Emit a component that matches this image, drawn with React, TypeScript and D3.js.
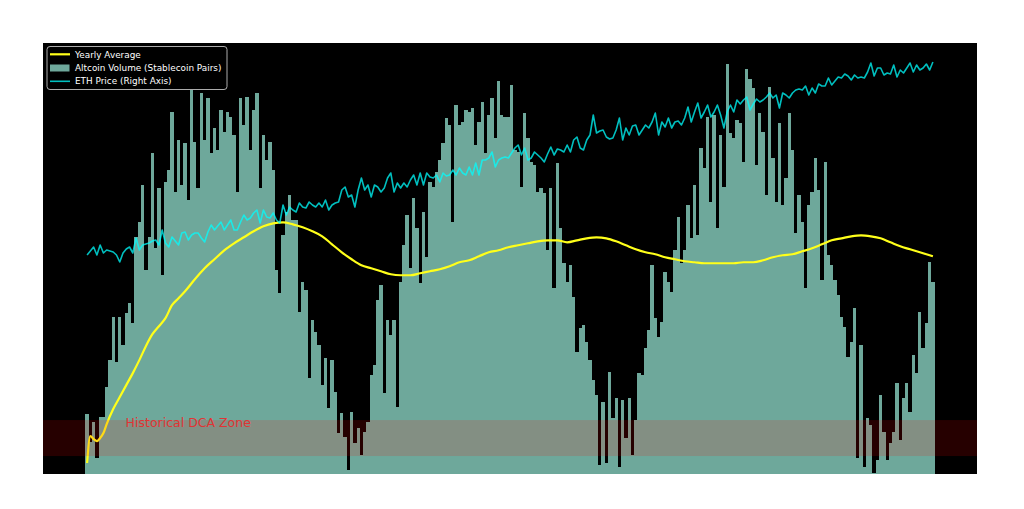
import React from "react";
import * as d3 from "d3";

// Weekly altcoin volume on stablecoin pairs (billions), one value per week
const altVolume = [
  6.0, 3.2, 5.2, 1.6, 5.7, 5.7, 8.7, 11.4, 15.7, 11.2,
  15.7, 12.9, 16.1, 17.1, 15.1, 23.7, 25.2, 28.9, 20.4, 23.7,
  32.1, 22.6, 28.6, 19.9, 29.2, 30.4, 36.2, 28.2, 33.4, 28.9,
  33.1, 27.4, 38.4, 33.2, 28.6, 38.1, 33.4, 37.6, 32.1, 34.6,
  32.4, 36.4, 34.2, 36.2, 35.7, 33.9, 28.2, 37.6, 34.9, 37.7,
  32.4, 36.4, 38.1, 28.6, 33.9, 31.4, 33.2, 30.4, 20.4, 18.1,
  23.9, 26.2, 27.9, 25.4, 25.4, 16.2, 19.2, 18.4, 9.6, 15.4,
  14.2, 12.9, 8.9, 11.6, 6.6, 11.4, 8.2, 4.1, 6.1, 3.7,
  0.4, 6.2, 3.1, 4.6, 1.9, 4.2, 5.2, 9.9, 10.9, 17.4,
  18.9, 8.1, 15.4, 13.9, 15.4, 6.7, 19.2, 22.9, 25.9, 20.6,
  27.6, 24.6, 19.1, 26.2, 21.7, 29.2, 28.7, 30.2, 31.4, 33.1,
  35.6, 34.9, 25.2, 36.9, 34.9, 35.2, 36.4, 36.2, 36.6, 32.9,
  35.2, 37.2, 32.1, 35.9, 37.6, 33.6, 39.4, 35.9, 35.7, 35.7,
  38.9, 32.4, 32.2, 28.7, 36.1, 33.6, 31.2, 30.9, 28.2, 28.6,
  28.1, 22.4, 28.6, 18.6, 31.1, 24.6, 21.1, 19.2, 20.9, 17.7,
  12.2, 14.6, 14.9, 13.2, 11.4, 9.4, 7.9, 0.9, 7.2, 1.1,
  10.2, 5.6, 7.6, 0.7, 7.4, 3.6, 7.6, 1.9, 5.4, 10.1,
  9.9, 12.6, 14.4, 20.9, 15.6, 13.7, 15.2, 20.2, 19.2, 18.2,
  22.4, 25.7, 21.1, 22.4, 26.9, 23.6, 28.9, 23.9, 32.6, 30.6,
  35.7, 27.2, 35.9, 24.6, 33.9, 28.7, 41.1, 34.1, 33.6, 35.4,
  35.1, 31.2, 40.6, 39.6, 38.6, 30.9, 36.1, 34.2, 27.9, 38.7,
  31.6, 27.2, 35.1, 26.9, 29.6, 36.1, 32.4, 24.1, 27.9, 25.2,
  18.6, 26.9, 28.2, 31.6, 28.4, 19.4, 31.2, 21.9, 20.9, 19.4,
  17.9, 15.7, 14.7, 11.7, 13.2, 16.6, 1.6, 12.9, 0.7, 5.6,
  4.9, 0.1, 1.4, 7.9, 4.2, 1.4, 3.1, 4.2, 9.1, 3.4,
  7.6, 9.1, 6.2, 11.9, 10.1, 16.2, 12.6, 15.1, 21.2, 19.2,
];

// ETH price (USD), one value per week, right axis
const ethPrice = [
  2190, 2230, 2270, 2190, 2290, 2210, 2240, 2230, 2220, 2190,
  2120, 2210, 2250, 2270, 2210, 2360, 2240, 2290, 2300, 2310,
  2330, 2340, 2290, 2440, 2310, 2270, 2370, 2330, 2290, 2410,
  2420, 2340, 2390, 2410, 2410, 2360, 2320, 2420, 2490, 2440,
  2480, 2520, 2440, 2490, 2540, 2440, 2440, 2520, 2590, 2540,
  2560, 2610, 2640, 2510, 2640, 2570, 2560, 2610, 2540, 2510,
  2690, 2590, 2670, 2640, 2620, 2710, 2670, 2660, 2720, 2690,
  2670, 2710, 2670, 2740, 2640, 2690, 2710, 2720, 2840, 2870,
  2770, 2790, 2670, 2840, 2960, 2840, 2890, 2770, 2890, 2870,
  2820, 2860, 2960, 3010, 2820, 2910, 2860, 2910, 2870, 2940,
  2990, 2890, 3010, 2890, 3010, 2970, 2960, 2990, 2920, 3010,
  2980, 2990, 3040, 2990, 3060, 3010, 2990, 3070, 2990, 3110,
  2990, 3140, 3140, 3160, 3220, 3070, 3140, 3160, 3170, 3160,
  3210, 3260, 3290, 3190, 3260, 3140, 3160, 3220, 3190, 3160,
  3120, 3200, 3270, 3190, 3250, 3240, 3220, 3290, 3220, 3340,
  3370, 3260, 3240, 3340, 3390, 3590, 3410, 3430, 3440, 3370,
  3350, 3360, 3440, 3560, 3340, 3460, 3390, 3480, 3490, 3390,
  3440, 3490, 3460, 3520, 3610, 3390, 3520, 3470, 3560, 3460,
  3520, 3530, 3490, 3560, 3670, 3520, 3620, 3710, 3560, 3620,
  3690, 3570, 3620, 3690, 3590, 3460, 3620, 3690, 3620, 3740,
  3700, 3740, 3770, 3640, 3700, 3750, 3720, 3740, 3770, 3810,
  3760, 3790, 3660, 3810, 3790, 3760, 3810, 3840, 3850, 3840,
  3880, 3790, 3860, 3810, 3900, 3880, 3880, 3960, 3890, 3930,
  3970, 3960, 4000, 3980, 3940, 3990, 3960, 3970, 3960, 4020,
  4110, 3980, 4060, 4060, 3990, 4010, 4000, 4090, 3970, 4040,
  4010, 4060, 4110, 4020, 4090, 4040, 4060, 4100, 4040, 4120,
];

// Yearly (rolling) average of the volume, read at these week indices
const avgWeek = [
  0, 1, 2, 3, 4, 5, 6, 8, 10, 12, 14, 16, 18, 20, 22, 24, 26, 28, 30,
  33, 36, 39, 42, 45, 48, 51, 54, 57, 60, 63, 66, 69, 72, 75, 78, 81, 84, 87,
  90, 93, 96, 99, 102, 105, 108, 111, 114, 117, 120, 123, 126, 129, 132, 135,
  138, 141, 144, 147, 150, 153, 156, 159, 162, 165, 168, 171, 174, 177, 180,
  183, 186, 189, 192, 195, 198, 201, 204, 207, 210, 213, 216, 219, 222, 225,
  228, 231, 234, 237, 240, 243, 246, 249, 252, 255, 259,
];
const avgValue = [
  1.1, 3.8, 3.5, 3.3, 3.6, 4.1, 5.0, 6.5, 7.7, 8.9, 10.1, 11.4, 12.8, 14.0, 14.8, 15.6, 16.9, 17.6, 18.3,
  19.5, 20.6, 21.5, 22.4, 23.1, 23.7, 24.3, 24.8, 25.1, 25.2, 25.0, 24.7, 24.3, 23.8, 23.0, 22.2, 21.5, 20.9, 20.6,
  20.3, 20.0, 19.9, 19.9, 20.1, 20.3, 20.5, 20.8, 21.2, 21.4, 21.8, 22.2, 22.4, 22.7, 22.9, 23.1,
  23.3, 23.4, 23.4, 23.2, 23.4, 23.6, 23.7, 23.6, 23.3, 22.9, 22.5, 22.2, 22.0, 21.7, 21.5,
  21.3, 21.2, 21.1, 21.1, 21.1, 21.1, 21.2, 21.2, 21.4, 21.7, 21.9, 22.0, 22.3, 22.6, 23.0,
  23.4, 23.6, 23.8, 23.9, 23.8, 23.6, 23.2, 22.8, 22.5, 22.2, 21.8,
];

const dcaZone = [1.8, 5.4];
const dcaLabel = "Historical DCA Zone";
const legendLabels = ["Yearly Average", "Altcoin Volume (Stablecoin Pairs)", "ETH Price (Right Axis)"];

const W = 1024;
const H = 509;
const L = 43, R = 977, T = 43, B = 474;

export default function App() {
  const n = altVolume.length;
  const pad = 0.05 * n;
  const x = d3.scaleLinear().domain([-0.5 - pad, n - 0.5 + pad]).range([L, R]);
  const yVol = d3.scaleLinear().domain([0, (d3.max(altVolume) as number) * 1.05]).range([B, T]);
  const yEth = d3.scaleLinear().domain([0, 4310]).range([B, T]);

  const avgLine = d3
    .line<number>()
    .x((_, i) => x(avgWeek[i]))
    .y((d) => yVol(d))
    .curve(d3.curveMonotoneX)(avgValue) as string;

  const ethLine = d3
    .line<number>()
    .x((_, i) => x(i))
    .y((d) => yEth(d))(ethPrice) as string;

  const font = "DejaVu Sans, sans-serif";

  return (
    <svg
      width={W}
      height={H}
      style={{ position: "absolute", left: 0, top: 0, background: "#ffffff" }}
    >
      <defs>
        <clipPath id="plot">
          <rect x={L} y={T} width={R - L} height={B - T} />
        </clipPath>
      </defs>
      <rect x={L} y={T} width={R - L} height={B - T} fill="#000000" />
      <g clipPath="url(#plot)">
        <g shapeRendering="crispEdges">
          {altVolume.map((v, i) => (
            <rect
              key={i}
              x={x(i - 0.5)}
              width={x(i + 0.5) - x(i - 0.5)}
              y={yVol(v)}
              height={B - yVol(v)}
              fill="#6ea89b"
            />
          ))}
        </g>
        <path d={avgLine} fill="none" stroke="#ffff1a" strokeWidth={2.2} strokeLinejoin="round" />
        <rect
          x={L}
          width={R - L}
          y={yVol(dcaZone[1])}
          height={yVol(dcaZone[0]) - yVol(dcaZone[1])}
          fill="#ff0000"
          fillOpacity={0.15}
        />
        <text x={x(11.8)} y={yVol(dcaZone[1]) + 6.5} fill="#e03434" fontFamily={font} fontSize={12.5}>
          {dcaLabel}
        </text>
        <path d={ethLine} fill="none" stroke="#00ffff" strokeOpacity={0.75} strokeWidth={1.6} strokeLinejoin="round" />
      </g>
      <g>
        <rect x={47} y={46.5} width={180} height={43} rx={3} fill="#000000" fillOpacity={0.8} stroke="#bfbfbf" strokeWidth={0.9} />
        <line x1={50} x2={70} y1={54.3} y2={54.3} stroke="#ffff1a" strokeWidth={2.2} />
        <rect x={50} y={64.5} width={19.5} height={7} fill="#6ea89b" />
        <line x1={50} x2={70} y1={81.3} y2={81.3} stroke="#00ffff" strokeOpacity={0.75} strokeWidth={1.6} />
        {legendLabels.map((t, i) => (
          <text key={t} x={75} y={57.6 + i * 13.4} fill="#ffffff" fontFamily={font} fontSize={8.9}>
            {t}
          </text>
        ))}
      </g>
    </svg>
  );
}
